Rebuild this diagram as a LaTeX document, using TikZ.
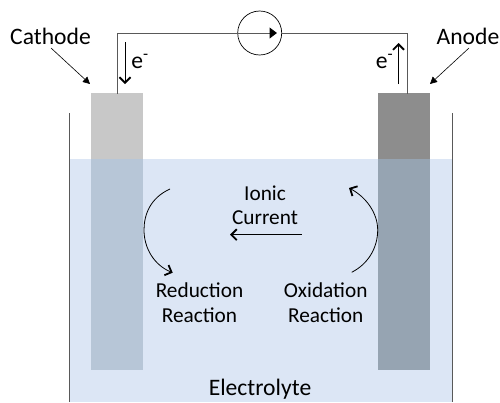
\documentclass[tikz,border=0pt]{standalone}
\usepackage{fontspec}
\setmainfont{Carlito}
\usetikzlibrary{arrows.meta}
\definecolor{wire}{RGB}{89,89,89}
\definecolor{liquid}{RGB}{220,230,245}
\definecolor{catdry}{RGB}{200,200,200}
\definecolor{anodry}{RGB}{141,141,141}
\definecolor{catwet}{RGB}{183,198,215}
\definecolor{anowet}{RGB}{150,164,178}
\tikzset{
  lbl/.style={inner sep=0pt,font=\fontsize{21.3}{24}\selectfont,text=black},
  lblbig/.style={inner sep=0pt,font=\fontsize{23.6}{26}\selectfont,text=black},
  wireline/.style={draw=wire,line width=1pt},
  thin arrow/.style={draw=black,line width=0.6pt,-{Stealth[length=7pt,width=7pt,inset=0pt]}},
  open arrow/.style={draw=black,line width=0.8pt,-{Straight Barb[length=5.5pt,width=11pt,line width=1.8pt]}},
}
\begin{document}
\begin{tikzpicture}[x=1pt,y=-1pt]
\useasboundingbox (0,0) rectangle (500,402);
\fill[liquid] (69,159) rectangle (452,402);
\fill[catdry] (91,93) rectangle (143,159);
\fill[anodry] (378,93) rectangle (430,159);
\fill[catwet] (91,159) rectangle (143,370);
\fill[anowet] (378,159) rectangle (430,370);
\coordinate (tl) at (69,113); \coordinate (bl) at (69,402);
\coordinate (tr) at (452,113); \coordinate (br) at (452,402);
\draw[wireline] (tl) -- (bl);
\draw[wireline] (tr) -- (br);
\node[circle,draw=black,line width=0.7pt,minimum size=44pt,inner sep=0pt] (meter) at (259.7,33) {};
\coordinate (cw) at (117,94); \coordinate (aw) at (407,94);
\coordinate (mtip) at (277,33);
\draw[wireline] (cw) -- (117,33) -- (meter.west);
\draw[wireline] (meter.east) -- (407,33) -- (aw);
\draw[wire,line width=1pt,-{Triangle[length=7.5pt,width=11pt,fill=black,color=black]}] (meter.west) -- (mtip);
\node[lblbig] (cathode) at (50.5,36) {Cathode};
\node[lblbig] (anode) at (468,36) {Anode};
\coordinate (ct) at (90,84); \coordinate (at) at (430,84);
\draw[thin arrow] (51,48) -- (ct);
\draw[thin arrow] (469,48) -- (at);
\coordinate (e1a) at (125,42); \coordinate (e1b) at (125,84);
\coordinate (e2a) at (398.5,84); \coordinate (e2b) at (398.5,43);
\draw[open arrow] (e1a) -- (e1b);
\draw[open arrow] (e2a) -- (e2b);
\node[lblbig] (e1) at (140,61) {e\textsuperscript{-}};
\node[lblbig] (e2) at (384.5,61) {e\textsuperscript{-}};
\node[lbl] (ionic) at (265,193) {Ionic};
\node[lbl] (current) at (265,218) {Current};
\coordinate (ia) at (301.7,234.7); \coordinate (ib) at (230,234.7);
\draw[open arrow] (ia) -- (ib);
\node[lbl] (red) at (199.5,290) {Reduction};
\node[lbl] (rea1) at (199.5,315.5) {Reaction};
\node[lbl] (oxi) at (325.7,290) {Oxidation};
\node[lbl] (rea2) at (325.7,315.5) {Reaction};
\node[lblbig] (ely) at (260,389) {Electrolyte};
\coordinate (la) at (170,189); \coordinate (lb) at (172.7,272.7);
\coordinate (ra) at (351.7,272.3); \coordinate (rb) at (349,188);
\draw[open arrow] (la) .. controls (150,198) and (144,215) .. (144,230) .. controls (144,248) and (154,265) .. (lb);
\draw[open arrow] (ra) .. controls (368,264) and (377.7,248) .. (377.7,230) .. controls (377.7,213) and (366,197) .. (rb);
\end{tikzpicture}
\end{document}
